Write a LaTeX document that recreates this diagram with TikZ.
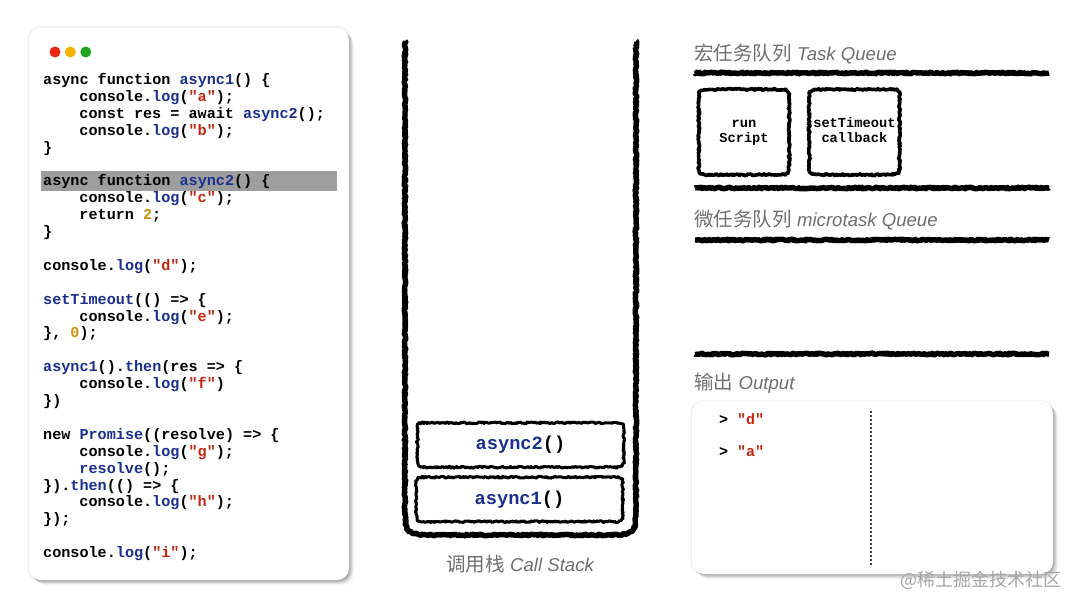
\documentclass[tikz,border=0pt]{standalone}
\usepackage{fontspec}
\setmainfont{Liberation Sans}
\newfontfamily\codefont{Liberation Mono}
\newfontfamily\cjk{Noto Sans CJK SC}
\usetikzlibrary{positioning,calc,shadows,decorations.pathmorphing}
\definecolor{fnblue}{HTML}{1B2F8F}
\definecolor{strred}{HTML}{C5260F}
\definecolor{numgold}{HTML}{C8930F}
\definecolor{labelgray}{HTML}{6E6E6E}
\definecolor{dotred}{HTML}{EB2415}
\definecolor{dotyellow}{HTML}{F5B400}
\definecolor{dotgreen}{HTML}{22A522}
\newcommand{\fnc}[1]{\textcolor{fnblue}{#1}}
\newcommand{\strg}[1]{\textcolor{strred}{#1}}
\newcommand{\numb}[1]{\textcolor{numgold}{#1}}
\newcommand{\ind}{\hspace*{36.3pt}}
\newcommand{\ttl}[2]{{\cjk #1} {\fontsize{18.6}{22}\selectfont\textit{#2}}}
% rough outline round a node: #1 line width, #2 corner, #3 node
\newcommand{\roughbox}[3]{\draw [rough=#1]
	($(#3.north west)+(#2,0)$) -- ($(#3.north east)+(-#2,0)$) .. controls (#3.north east) .. ($(#3.north east)+(0,-#2)$)
	-- ($(#3.south east)+(0,#2)$) .. controls (#3.south east) .. ($(#3.south east)+(-#2,0)$)
	-- ($(#3.south west)+(#2,0)$) .. controls (#3.south west) .. ($(#3.south west)+(0,#2)$)
	-- ($(#3.north west)+(0,-#2)$) .. controls (#3.north west) .. cycle;}
\tikzset{
	rough/.style={draw,black,line width=#1,line join=round,decorate,decoration={random steps,segment length=1.2pt,amplitude=.85pt}},
	panel/.style={fill=white,rounded corners=12pt,
		drop shadow={shadow xshift=0pt,shadow yshift=0pt,shadow scale=1.008,opacity=.05,fill=black},
		drop shadow={shadow xshift=1pt,shadow yshift=-1pt,opacity=.08,fill=black},
		drop shadow={shadow xshift=2pt,shadow yshift=-2pt,opacity=.08,fill=black},
		drop shadow={shadow xshift=3pt,shadow yshift=-3pt,opacity=.08,fill=black},
		drop shadow={shadow xshift=4pt,shadow yshift=-4pt,opacity=.06,fill=black},
		drop shadow={shadow xshift=5pt,shadow yshift=-5pt,opacity=.04,fill=black}},
	title/.style={anchor=west,inner sep=0pt,text=labelgray,font=\fontsize{19.5}{22}\selectfont},
	task/.style={minimum width=90pt,minimum height=85pt,align=center,inner sep=0pt,
		font=\codefont\bfseries\fontsize{13.7}{15}\selectfont},
	frame/.style={minimum width=206pt,minimum height=44pt,inner sep=0pt,
		font=\codefont\bfseries\fontsize{18.7}{20}\selectfont},
	outline/.style={anchor=west,inner sep=0pt,font=\codefont\bfseries\fontsize{15}{16}\selectfont},
	dot/.style={circle,inner sep=0pt,minimum size=11pt}
}
\begin{document}
\begin{tikzpicture}[x=1pt,y=-1pt]
	\useasboundingbox (0,0) rectangle (1080,608);
	% code window
	\node (window) [panel,minimum width=320pt,minimum height=552pt,inner sep=0pt] at (189,304) {};
	\node (red) [dot,fill=dotred] at (55,52) {};
	\node (yellow) [dot,fill=dotyellow,right=4pt of red] {};
	\node (green) [dot,fill=dotgreen,right=4pt of yellow] {};
	\node (hilite) [fill=black!38,minimum width=296pt,minimum height=20pt,inner sep=0pt] at (189,181) {};
	\node (code) [anchor=north west,inner sep=0pt,align=left,font=\codefont\bfseries\fontsize{15.15}{16.9}\selectfont] at (43,73) {%
		async function \fnc{async1}() \{\\
		\ind console.\fnc{log}(\strg{"a"});\\
		\ind const res = await \fnc{async2}();\\
		\ind console.\fnc{log}(\strg{"b"});\\
		\}\\
		\null\\
		async function \fnc{async2}() \{\\
		\ind console.\fnc{log}(\strg{"c"});\\
		\ind return \numb{2};\\
		\}\\
		\null\\
		console.\fnc{log}(\strg{"d"});\\
		\null\\
		\fnc{setTimeout}(() => \{\\
		\ind console.\fnc{log}(\strg{"e"});\\
		\}, \numb{0});\\
		\null\\
		\fnc{async1}().\fnc{then}(res => \{\\
		\ind console.\fnc{log}(\strg{"f"})\\
		\})\\
		\null\\
		new \fnc{Promise}((resolve) => \{\\
		\ind console.\fnc{log}(\strg{"g"});\\
		\ind \fnc{resolve}();\\
		\}).\fnc{then}(() => \{\\
		\ind console.\fnc{log}(\strg{"h"});\\
		\});\\
		\null\\
		console.\fnc{log}(\strg{"i"});};
	% call stack
	\coordinate (stackl) at (405,41);
	\coordinate (stackr) at (636,41);
	\draw [rough=5.4pt] (stackl) -- (405,503) .. controls (405,535) .. (437,535) -- (604,535) .. controls (636,535) .. (636,503) -- (stackr);
	\node (async2) [frame] at (520.5,445) {\fnc{async2}()};
	\node (async1) [frame,xshift=-1pt,below=10pt of async2] {\fnc{async1}()};
	\roughbox{3pt}{11pt}{async2}
	\roughbox{3pt}{11pt}{async1}
	\node (stacktitle) [title,anchor=center] at (520.5,564) {\ttl{调用栈}{Call Stack}};
	% queues
	\node (tasktitle) [title] at (694,54) {\ttl{宏任务队列}{Task Queue}};
	\coordinate (t1l) at (695,73);
	\coordinate (t1r) at (1049,73);
	\coordinate (t2l) at (695,188);
	\coordinate (t2r) at (1049,188);
	\draw [rough=5.4pt] (t1l) -- (t1r);
	\draw [rough=5.4pt] (t2l) -- (t2r);
	\node (run) [task] at (744,132) {\strut run\\Script\strut};
	\node (timeout) [task,right=20pt of run] {\strut setTimeout\\callback\strut};
	\roughbox{3.6pt}{13pt}{run}
	\roughbox{3.6pt}{13pt}{timeout}
	\node (microtitle) [title] at (694,220) {\ttl{微任务队列}{microtask Queue}};
	\coordinate (m1l) at (695,240);
	\coordinate (m1r) at (1049,240);
	\coordinate (m2l) at (695,354);
	\coordinate (m2r) at (1049,354);
	\draw [rough=5.4pt] (m1l) -- (m1r);
	\draw [rough=5.4pt] (m2l) -- (m2r);
	% output
	\node (outtitle) [title] at (694,383) {\ttl{输出}{Output}};
	\node (output) [panel,minimum width=361pt,minimum height=173pt,inner sep=0pt] at (872.5,487.5) {};
	\coordinate (septop) at (871,411);
	\coordinate (sepbot) at (871,565);
	\draw [black!75,line width=1.5pt,dash pattern=on 1.5pt off 2.5pt] (septop) -- (sepbot);
	\node (d) [outline] at (719,419.5) {> \strg{"d"}};
	\node (a) [outline] at (719,451.5) {> \strg{"a"}};
	\node (mark) [anchor=east,inner sep=0pt,text=black!35,font=\cjk\fontsize{18}{20}\selectfont] at (1062,580) {@稀土掘金技术社区};
\end{tikzpicture}
\end{document}
